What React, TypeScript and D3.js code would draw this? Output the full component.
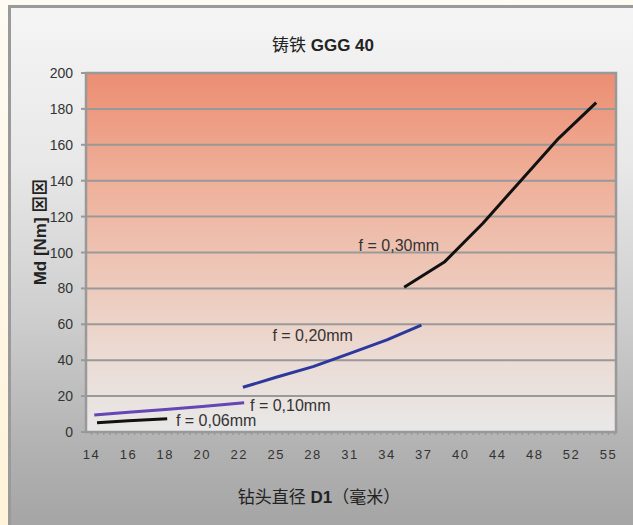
import { line, range, scaleLinear, scalePoint } from 'd3';

// x axis categories (drill diameter D1, mm) and y ticks (Md, Nm)
const categories = [14, 16, 18, 20, 22, 25, 28, 31, 34, 37, 40, 44, 48, 52, 55];
const yTicks = [0, 20, 40, 60, 80, 100, 120, 140, 160, 180, 200];

// each feed rate: diameters and torque
const f006D = [14.3, 16, 18.1];
const f006Md = [5.2, 6.2, 7.4];
const f010D = [14.15, 16, 18, 20, 22.4];
const f010Md = [9.5, 11, 12.6, 14.2, 16.3];
const f020D = [22.3, 25, 28, 31, 34, 36.8];
const f020Md = [24.9, 30.5, 36.4, 43.8, 51.3, 59.6];
const f030D = [35.4, 38.7, 42.4, 46.4, 50.6, 54];
const f030Md = [80.6, 94.9, 116.3, 139.4, 163.6, 183.5];

const seriesNames = ['f = 0,06mm', 'f = 0,10mm', 'f = 0,20mm', 'f = 0,30mm'];
const seriesColors = ['#111111', '#6446b4', '#2b389e', '#111111'];
// where each label sits, in data units (diameter, Md)
const labelD = [18.57, 22.88, 24.7, 31.7];
const labelMd = [6.3, 15, 54, 103.8];

const width = 633;
const height = 525;
const plot = { left: 86, right: 616, top: 73, bottom: 432 };
const sans = "'Liberation Sans', Arial, 'Noto Sans CJK SC', sans-serif";
const narrow = "'Liberation Sans Narrow', 'Arial Narrow', 'Liberation Sans', sans-serif";

export default function App() {
  const xCat = scalePoint<number>()
    .domain(categories)
    .range([91.5, 608.5]);

  // category axis is evenly spaced, so map diameters piecewise onto it
  const xScale = scaleLinear()
    .domain(categories)
    .range(categories.map(c => xCat(c) ?? plot.left));

  const yScale = scaleLinear()
    .domain([0, 200])
    .range([plot.bottom, plot.top]);

  const series = [
    f006D.map((d, i) => [d, f006Md[i]] as [number, number]),
    f010D.map((d, i) => [d, f010Md[i]] as [number, number]),
    f020D.map((d, i) => [d, f020Md[i]] as [number, number]),
    f030D.map((d, i) => [d, f030Md[i]] as [number, number]),
  ];

  const path = line<[number, number]>()
    .x(p => xScale(p[0]))
    .y(p => yScale(p[1]));

  const step = xCat.step() / 6;
  const start = (xCat(categories[0]) ?? plot.left);
  const minorTicks = range(-1, 90)
    .map(i => start + i * step)
    .filter(x => x >= plot.left && x <= plot.right);

  return (
    <div>
      <style>{'body{margin:0}'}</style>
      <svg width={width} height={height} style={{ display: 'block' }}>
        <defs>
          <linearGradient id="side" x1="0" x2="0" y1="0" y2="1">
            <stop offset="0%" stopColor="#fefbf3" />
            <stop offset="100%" stopColor="#fff2d8" />
          </linearGradient>
          <linearGradient id="frame" x1="0" x2="0" y1="0" y2="1">
            <stop offset="0%" stopColor="#f5f5f5" />
            <stop offset="30%" stopColor="#e8e8e8" />
            <stop offset="60%" stopColor="#cdcdcd" />
            <stop offset="85%" stopColor="#b1b1b1" />
            <stop offset="100%" stopColor="#a4a4a4" />
          </linearGradient>
          <linearGradient id="plotfill" x1="0" x2="0" y1="0" y2="1">
            <stop offset="0%" stopColor="#ec8e72" />
            <stop offset="30%" stopColor="#efb09a" />
            <stop offset="60%" stopColor="#edcbbd" />
            <stop offset="80%" stopColor="#ebdcd5" />
            <stop offset="100%" stopColor="#e8e8e8" />
          </linearGradient>
        </defs>

        <rect x={0} y={0} width={width} height={height} fill="url(#side)" />
        <rect x={9.5} y={6.5} width={width} height={height} fill="url(#frame)" stroke="#9a9a9a" strokeWidth={3} />

        <text x={323} y={45} textAnchor="middle" dominantBaseline="central" fontFamily={sans} fontSize={17} fill="#222">
          铸铁 <tspan fontWeight="bold">GGG 40</tspan>
        </text>

        <rect x={plot.left} y={plot.top} width={plot.right - plot.left} height={plot.bottom - plot.top} fill="url(#plotfill)" />

        {yTicks.map(t => (
          <g key={t}>
            <line x1={plot.left} x2={plot.right} y1={yScale(t)} y2={yScale(t)} stroke="#999" strokeWidth={2} />
            <line x1={plot.left - 5} x2={plot.left} y1={yScale(t)} y2={yScale(t)} stroke="#999" strokeWidth={2} />
            <text x={73} y={yScale(t)} textAnchor="end" dominantBaseline="central" fontFamily={narrow} fontSize={14} fill="#333">{t}</text>
          </g>
        ))}

        <rect x={plot.left} y={plot.top} width={plot.right - plot.left} height={plot.bottom - plot.top} fill="none" stroke="#999" strokeWidth={2.5} />

        {minorTicks.map((x, i) => (
          <line key={i} x1={x} x2={x} y1={plot.bottom} y2={plot.bottom + 3} stroke="#999" strokeWidth={1.5} />
        ))}

        {categories.map(c => (
          <text key={c} x={xCat(c)} y={454} textAnchor="middle" dominantBaseline="central" fontFamily={narrow} fontSize={13} letterSpacing={1.5} fill="#333">{c}</text>
        ))}

        {series.map((s, i) => (
          <path key={seriesNames[i]} d={path(s) ?? ''} fill="none" stroke={seriesColors[i]} strokeWidth={3} strokeLinejoin="round" />
        ))}

        {seriesNames.map((name, i) => (
          <text key={name} x={xScale(labelD[i])} y={yScale(labelMd[i])} dominantBaseline="central" fontFamily={sans} fontSize={16} fill="#333">{name}</text>
        ))}

        <text transform="translate(40,232) rotate(-90)" textAnchor="middle" dominantBaseline="central" fontFamily={sans} fontSize={17} fontWeight="bold" fill="#222">
          Md [Nm] ⊠⊠
        </text>

        <text x={319} y={497} textAnchor="middle" dominantBaseline="central" fontFamily={sans} fontSize={17} fill="#222">
          钻头直径 <tspan fontWeight="bold">D1</tspan>（毫米）
        </text>
      </svg>
    </div>
  );
}
